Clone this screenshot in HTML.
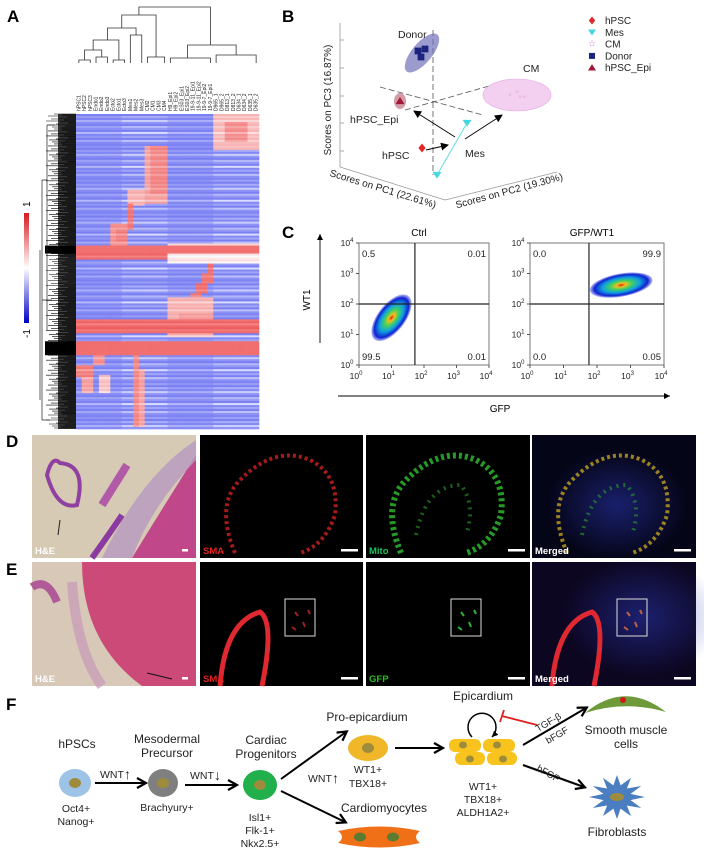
<!DOCTYPE html>
<html><head><meta charset="utf-8"><style>
html,body{margin:0;padding:0;background:#fff;width:704px;height:860px;overflow:hidden;font-family:"Liberation Sans",sans-serif}
svg{position:absolute;left:0;top:0}
text{font-family:"Liberation Sans",sans-serif}
</style></head><body>
<svg id="fig" width="704" height="860" viewBox="0 0 704 860">
<defs>
<linearGradient id="cbar" x1="0" y1="0" x2="0" y2="1">
<stop offset="0" stop-color="#d7191c"/><stop offset="0.5" stop-color="#ffffff"/><stop offset="1" stop-color="#0000c8"/></linearGradient>
<radialGradient id="dens"><stop offset="0" stop-color="#e02010"/><stop offset="0.15" stop-color="#f0c020"/><stop offset="0.35" stop-color="#40d060"/><stop offset="0.6" stop-color="#10a0e0"/><stop offset="0.85" stop-color="#1020d0"/><stop offset="1" stop-color="#2030e0" stop-opacity="0.3"/></radialGradient>
<radialGradient id="blueglow"><stop offset="0" stop-color="#2a36b0" stop-opacity="0.55"/><stop offset="1" stop-color="#2a36b0" stop-opacity="0"/></radialGradient>
<marker id="ah" markerWidth="8" markerHeight="8" refX="7" refY="4" orient="auto" markerUnits="userSpaceOnUse"><path d="M0,0 L8,4 L0,8 z" fill="#000"/></marker>
<marker id="ah2" markerWidth="12" markerHeight="12" refX="9" refY="6" orient="auto" markerUnits="userSpaceOnUse"><path d="M1,1 L10,6 L1,11" fill="none" stroke="#000" stroke-width="2.2"/></marker>
<marker id="ahs" markerWidth="6" markerHeight="6" refX="6" refY="3" orient="auto" markerUnits="userSpaceOnUse"><path d="M0,0 L6,3 L0,6 z" fill="#000"/></marker>
</defs>

<g font-weight="bold" font-size="17">
<text x="7" y="22">A</text>
<text x="282" y="22">B</text>
<text x="282" y="238">C</text>
<text x="6" y="447">D</text>
<text x="6" y="575">E</text>
<text x="6" y="710">F</text>
</g>

<g id="heatmap"></g>
<g id="rowdend"></g>
<g id="coldend" stroke="#333" stroke-width="0.8" fill="none"></g>
<g id="collabels" font-size="5" fill="#222"></g>
<rect x="24" y="213" width="5" height="110" fill="url(#cbar)"/>
<text transform="translate(30,207) rotate(-90)" font-size="10">1</text>
<text transform="translate(30,338) rotate(-90)" font-size="10">-1</text>

<g id="pca">
<line x1="340" y1="23" x2="340" y2="167" stroke="#999" stroke-width="0.8"/>
<line x1="340" y1="167" x2="445" y2="200" stroke="#999" stroke-width="0.8"/>
<line x1="445" y1="200" x2="557" y2="172" stroke="#999" stroke-width="0.8"/>
<g stroke="#999" stroke-width="0.8">
<line x1="340" y1="40" x2="344" y2="40"/><line x1="340" y1="68" x2="344" y2="68"/><line x1="340" y1="96" x2="344" y2="96"/><line x1="340" y1="123" x2="344" y2="123"/><line x1="340" y1="151" x2="344" y2="151"/>
</g>
<text transform="translate(331,100) rotate(-90)" font-size="10" text-anchor="middle" fill="#222">Scores on PC3 (16.87%)</text>
<text transform="translate(382,192) rotate(17)" font-size="10" text-anchor="middle" fill="#222">Scores on PC1 (22.61%)</text>
<text transform="translate(510,194) rotate(-15)" font-size="10" text-anchor="middle" fill="#222">Scores on PC2 (19.30%)</text>
<g stroke="#555" stroke-width="0.8" stroke-dasharray="6,3" fill="none">
<line x1="433" y1="30" x2="433" y2="175"/>
<line x1="380" y1="87" x2="483" y2="115"/>
<line x1="405" y1="110" x2="510" y2="80"/>
</g>
<ellipse cx="422" cy="53" rx="24" ry="10" transform="rotate(-50 422 53)" fill="#7070b8" opacity="0.7"/>
<ellipse cx="517" cy="95" rx="34" ry="16" fill="#f4d0f0" stroke="#e6a8e6" stroke-width="0.6"/>
<ellipse cx="400" cy="101" rx="6" ry="8" fill="#c07080" opacity="0.7"/>
<g id="pcapts"></g>
<line x1="467" y1="123" x2="437" y2="175" stroke="#6dd" stroke-width="1"/>
<g stroke="#000" stroke-width="0.9" marker-end="url(#ah)">
<line x1="455" y1="137" x2="414" y2="111"/>
<line x1="465" y1="139" x2="502" y2="115"/>
<line x1="426" y1="150" x2="448" y2="145"/>
</g>
<g font-size="10.5" fill="#222">
<text x="398" y="38">Donor</text>
<text x="523" y="72">CM</text>
<text x="350" y="123">hPSC_Epi</text>
<text x="382" y="159">hPSC</text>
<text x="465" y="157">Mes</text>
</g>
</g>
<g id="legend" font-size="10" fill="#222"></g>

<g id="flow"></g>
<line x1="320" y1="343" x2="320" y2="234" stroke="#000" stroke-width="0.9" marker-end="url(#ahs)"/>
<text transform="translate(310,300) rotate(-90)" font-size="10" text-anchor="middle">WT1</text>
<line x1="338" y1="396" x2="670" y2="396" stroke="#000" stroke-width="0.9" marker-end="url(#ahs)"/>
<text x="500" y="412" font-size="10" text-anchor="middle">GFP</text>

<g id="micro"></g>

<g id="diagram" font-size="10.5" fill="#222">
<text x="77" y="748" text-anchor="middle" font-size="12">hPSCs</text>
<ellipse cx="75" cy="783" rx="16" ry="14" fill="#9dc3e6"/><ellipse cx="75" cy="783" rx="6" ry="5" fill="#9e8c3c"/>
<text x="76" y="812" text-anchor="middle">Oct4+</text><text x="76" y="825" text-anchor="middle">Nanog+</text>
<line x1="95" y1="783" x2="145" y2="783" stroke="#000" stroke-width="2" marker-end="url(#ah2)"/>
<text x="100" y="778">WNT</text><text x="124" y="779" font-size="14">↑</text>
<text x="167" y="743" text-anchor="middle" font-size="12">Mesodermal</text><text x="167" y="757" text-anchor="middle" font-size="12">Precursor</text>
<ellipse cx="163" cy="783" rx="15" ry="14" fill="#7f7f7f"/><ellipse cx="163" cy="783" rx="6" ry="5" fill="#9e8c3c"/>
<text x="167" y="811" text-anchor="middle">Brachyury+</text>
<line x1="185" y1="785" x2="236" y2="785" stroke="#000" stroke-width="2" marker-end="url(#ah2)"/>
<text x="190" y="779">WNT</text><text x="214" y="780" font-size="14">↓</text>
<text x="266" y="744" text-anchor="middle" font-size="12">Cardiac</text><text x="266" y="758" text-anchor="middle" font-size="12">Progenitors</text>
<ellipse cx="260" cy="785" rx="17" ry="15" fill="#22b04c"/><ellipse cx="260" cy="785" rx="6" ry="5" fill="#9e8c3c"/>
<text x="260" y="821" text-anchor="middle">Isl1+</text><text x="260" y="834" text-anchor="middle">Flk-1+</text><text x="260" y="847" text-anchor="middle">Nkx2.5+</text>
<line x1="281" y1="779" x2="346" y2="732" stroke="#000" stroke-width="2" marker-end="url(#ah2)"/>
<line x1="281" y1="791" x2="345" y2="822" stroke="#000" stroke-width="2" marker-end="url(#ah2)"/>
<text x="308" y="782">WNT</text><text x="332" y="783" font-size="14">↑</text>
<text x="367" y="721" text-anchor="middle" font-size="12">Pro-epicardium</text>
<ellipse cx="368" cy="748" rx="20" ry="13" fill="#f0b728"/><ellipse cx="368" cy="748" rx="6" ry="5" fill="#9e8c3c"/>
<text x="368" y="773" text-anchor="middle">WT1+</text><text x="368" y="787" text-anchor="middle">TBX18+</text>
<text x="384" y="812" text-anchor="middle" font-size="12">Cardiomyocytes</text>
<path d="M338,831 Q380,822 420,831 Q412,837 420,843 Q380,852 338,843 Q346,837 338,831 z" fill="#f07018"/>
<ellipse cx="360" cy="837" rx="6" ry="4.5" fill="#5b7a32"/><ellipse cx="393" cy="837" rx="6" ry="4.5" fill="#5b7a32"/>
<line x1="395" y1="748" x2="442" y2="748" stroke="#000" stroke-width="2" marker-end="url(#ah2)"/>
<text x="483" y="700" text-anchor="middle" font-size="12">Epicardium</text>
<path d="M472,737 A14,14 0 1 1 492,737" fill="none" stroke="#000" stroke-width="1.5" marker-end="url(#ahs)"/>
<g fill="#f7c31c">
<rect x="449" y="739" width="32" height="13" rx="6"/><rect x="483" y="739" width="32" height="13" rx="6"/>
<rect x="455" y="752" width="30" height="13" rx="6"/><rect x="487" y="752" width="30" height="13" rx="6"/>
</g>
<g fill="#9e8c3c"><ellipse cx="463" cy="745" rx="4" ry="3.5"/><ellipse cx="497" cy="745" rx="4" ry="3.5"/><ellipse cx="470" cy="759" rx="4" ry="3.5"/><ellipse cx="503" cy="759" rx="4" ry="3.5"/></g>
<text x="483" y="790" text-anchor="middle">WT1+</text><text x="483" y="803" text-anchor="middle">TBX18+</text><text x="483" y="816" text-anchor="middle">ALDH1A2+</text>
<line x1="537" y1="725" x2="502" y2="716" stroke="#e02020" stroke-width="1.8"/>
<line x1="500" y1="722" x2="504" y2="710" stroke="#e02020" stroke-width="1.8"/>
<line x1="523" y1="745" x2="586" y2="708" stroke="#000" stroke-width="2" marker-end="url(#ah2)"/>
<text transform="translate(538,732) rotate(-30)" font-size="9.5">TGF-β</text>
<text transform="translate(548,744) rotate(-30)" font-size="9.5">bFGF</text>
<line x1="523" y1="765" x2="584" y2="787" stroke="#000" stroke-width="2" marker-end="url(#ah2)"/>
<text transform="translate(536,770) rotate(30)" font-size="9.5">bFGF</text>
<path d="M585,713 Q625,680 666,712 Q625,700 585,713 z" fill="#6f9a3a"/>
<circle cx="623" cy="700" r="3" fill="#d01818"/>
<text x="626" y="734" text-anchor="middle" font-size="12">Smooth muscle</text><text x="626" y="748" text-anchor="middle" font-size="12">cells</text>
<path id="fib" fill="#4a7ec0"/>
<ellipse cx="617" cy="797" rx="7" ry="4" fill="#9e8c3c"/>
<text x="617" y="836" text-anchor="middle" font-size="12">Fibroblasts</text>
</g>
</svg>

<script>
const NS='http://www.w3.org/2000/svg';
function mk(tag,attrs,parent){const e=document.createElementNS(NS,tag);for(const k in attrs)e.setAttribute(k,attrs[k]);if(parent)parent.appendChild(e);return e;}

const sampleNames=['hPSC1','hPSC2','hPSC3','Endo1','Endo2','Endo3','Ecto2','Ecto1','Ecto3','Mes1','Mes2','Mes3','CM2','CM1','CM3','CM4','H9_Epi1','H9_Epi2','ES03_Epi1','ES03_Epi2','19-9-11_Epi1','19-9-11_Epi2','19-9-7_Epi2','19-9-7_Epi1','D965_1','D965_2','D813_1','D813_2','D634_1','D634_2','D635_1','D635_2'];
const nRows=158;
const baseValue=-0.62;
const stripeOffsets=[0,0.22,0.05,0.38,0.1,0,0.28,0.12,0,0.45,0.05,0.18,0,0.32,0.08,0.02,0.15];
const blockRowStart=[0,  4, 16,16, 38,45, 55,58, 66,70, 65, 70, 75,80,85,90,95, 92,100,103, 103, 114,120,126,132, 121,128,131];
const blockRowEnd  =[18, 14,45,40, 46,58, 66,64, 70,73, 70, 75, 80,85,90,95,100,112,110,108, 110, 120,126,132,140, 157,157,140];
const blockColStart=[24, 26,12,13, 9, 9,  6, 7,  0, 0, 16, 16, 23,22,21,20,19, 16,18,0,   0,  0, 3, 0, 1,  10,11,4];
const blockColEnd  =[31, 29,15,15, 11,9,  8, 8, 31,31, 31, 31, 23,23,22,21,20, 23,23,4,  31, 1, 4, 2, 2,  10,11,5];
const blockValue   =[0.45,0.7,0.6,0.75,0.5,0.85,0.7,0.8,0.95,0.95,0.3,0.2,0.9,0.85,0.9,0.8,0.8,0.5,0.6,0.45,0.95,0.6,0.7,0.8,0.6,0.75,0.6,0.4];
const bandRowStart=[66,114];
const bandRowEnd=[70,121];

const HM={x:76,y:114,w:183,h:315};
function colorOf(v){v=Math.max(-1,Math.min(1,v));let r,g,b;
 if(v<0){const t=-v;r=255+(40-255)*t;g=255+(50-255)*t;b=255+(235-255)*t;}
 else{const t=v;r=255+(238-255)*t;g=255+(85-255)*t;b=255+(85-255)*t;}
 return 'rgb('+Math.round(r)+','+Math.round(g)+','+Math.round(b)+')';}
(function(){
 const g=document.getElementById('heatmap');
 const cw=HM.w/sampleNames.length, rh=HM.h/nRows;
 for(let r=0;r<nRows;r++){
  const off=stripeOffsets[r%stripeOffsets.length];
  for(let c=0;c<sampleNames.length;c++){
   let v=baseValue+off*(0.6+0.4*((c>>3)%2));
   for(let k=0;k<blockRowStart.length;k++){
    if(r>=blockRowStart[k]&&r<blockRowEnd[k]&&c>=blockColStart[k]&&c<=blockColEnd[k]) v=blockValue[k]-off*0.6;
   }
   for(let k=0;k<bandRowStart.length;k++){ if(r>=bandRowStart[k]&&r<bandRowEnd[k]) v=0.85; }
   const cell=mk('rect',{x:(HM.x+c*cw).toFixed(2),y:(HM.y+r*rh).toFixed(2),width:(cw+0.3).toFixed(2),height:(rh+0.3).toFixed(2),fill:colorOf(v)},g);
   
   
  }
 }
 const d=document.getElementById('rowdend');
 const lens=[22,14,28,9,18,25,12,30,16,8,20,27,11,24,15];
 for(let r=0;r<nRows*2;r++){
  const y=HM.y+r*rh/2; const L=lens[r%lens.length];
  mk('line',{x1:HM.x-L,y1:y.toFixed(1),x2:HM.x,y2:y.toFixed(1),stroke:'#000','stroke-width':0.6},d);
 }
 mk('rect',{x:HM.x-18,y:HM.y,width:18,height:HM.h,fill:'#000',opacity:0.75},d);
 for(let k=0;k<bandRowStart.length;k++){
  mk('rect',{x:45,y:HM.y+bandRowStart[k]*rh,width:HM.x-45,height:(bandRowEnd[k]-bandRowStart[k])*rh,fill:'#000'},d);
 }
 mk('path',{d:'M47,125 V330 M42,180 V420 M40,250 V400 M47,125 H55 M47,200 H58 M42,180 H47 M42,300 H52 M42,420 H50',stroke:'#222','stroke-width':0.7,fill:'none'},d);
 const cl=document.getElementById('collabels');
 sampleNames.forEach((n,c)=>{
  const x=HM.x+(c+0.5)*cw+1.5;
  const t=mk('text',{transform:'translate('+x.toFixed(1)+',111) rotate(-90)'},cl);
  t.textContent=n;
  
  
 });
 const cd=document.getElementById('coldend');
 const X=c=>HM.x+(c+0.5)*cw;
 const paths=[
  'M'+X(0)+',63 V60 H'+X(2)+' V63','M'+X(1)+',60 V50 H'+X(4)+' V57','M'+X(3)+',63 V57 H'+X(5)+' V63',
  'M'+X(6)+',63 V60 H'+X(8)+' V63','M'+X(2.5)+',50 V40 H'+X(7)+' V60','M'+X(9)+',63 V35 H'+X(11)+' V63',
  'M'+X(5)+',40 V28 H'+X(10)+' V35','M'+X(12)+',63 V57 H'+X(15)+' V63','M'+X(7.5)+',28 V15 H'+X(13.5)+' V57',
  'M'+X(16)+',63 V58 H'+X(23)+' V63','M'+X(19)+',58 V45 H'+X(27.5)+' V55','M'+X(24)+',63 V55 H'+X(31)+' V63',
  'M'+X(10.5)+',15 V7 H'+X(23)+' V45'];
 paths.forEach(p=>mk('path',{d:p},cd));
})();

const legendLabels=['hPSC','Mes','CM','Donor','hPSC_Epi'];
const legendColors=['#e02828','#40d8e0','#d070c8','#1a237e','#a01838'];
const legendShapes=['diamond','tri-down','star','square','tri-up'];
const pcaGroup=['Donor','Donor','Donor','CM','CM','CM','CM','hPSC_Epi','hPSC','Mes','Mes'];
const pcaX=[418,425,421,510,517,520,524,400,422,467,437];
const pcaY=[51,49,57,95,92,97,97,101,148,123,175];
function marker(g,shape,x,y,s,col){
 if(shape==='diamond')return mk('path',{d:`M${x},${y-s} L${x+s*0.8},${y} L${x},${y+s} L${x-s*0.8},${y} z`,fill:col},g);
 if(shape==='tri-down')return mk('path',{d:`M${x-s},${y-s*0.7} L${x+s},${y-s*0.7} L${x},${y+s*0.8} z`,fill:col},g);
 if(shape==='tri-up')return mk('path',{d:`M${x-s},${y+s*0.7} L${x+s},${y+s*0.7} L${x},${y-s*0.9} z`,fill:col},g);
 if(shape==='square')return mk('rect',{x:x-s*0.75,y:y-s*0.75,width:s*1.5,height:s*1.5,fill:col},g);
 return mk('text',{x:x,y:y+s*0.6,'font-size':s*2.2,'text-anchor':'middle',fill:col},g);
}
(function(){
 const g=document.getElementById('pcapts');
 pcaGroup.forEach((grp,i)=>{
  const k=legendLabels.indexOf(grp);
  const m=marker(g,legendShapes[k],pcaX[i],pcaY[i],grp==='CM'?2:4.5,legendColors[k]);
  if(legendShapes[k]==='star')m.textContent='☆';
  
  
 });
 const lg=document.getElementById('legend');
 legendLabels.forEach((l,i)=>{
  const y=24+i*11.8;
  const m=marker(lg,legendShapes[i],592,y-3.5,4,legendColors[i]);
  if(legendShapes[i]==='star')m.textContent='☆';
  const t=mk('text',{x:605,y:y},lg);t.textContent=l;
  
  
 });
})();

const flowTitles=['Ctrl','GFP/WT1'];
const flowBoxX=[359,530];
const gateX=[1.72,1.76];
const gateY=[2.0,2.0];
const quadUL=['0.5','0.0'],quadUR=['0.01','99.9'],quadLL=['99.5','0.0'],quadLR=['0.01','0.05'];
const popCx=[1.0,2.72],popCy=[1.55,2.62],popRx=[0.85,0.95],popRy=[0.28,0.38],popAngle=[-52,-10];
const tickLabels=['0','1','2','3','4'];
(function(){
 const g=document.getElementById('flow');
 const W=[130,134],H=122,Y0=243;
 flowTitles.forEach((title,p)=>{
  const x0=flowBoxX[p],w=W[p];
  const sx=v=>x0+v/4*w, sy=v=>Y0+H-v/4*H;
  const t=mk('text',{x:x0+w/2-5,y:236,'font-size':10,'text-anchor':'middle'},g);t.textContent=title;
  
  
  const rx=popRx[p]/4*w, ry=popRy[p]/4*H*(p===0?1.6:1);
  const e=mk('ellipse',{cx:sx(popCx[p]),cy:sy(popCy[p]),rx:rx,ry:ry,fill:'url(#dens)',transform:`rotate(${popAngle[p]} ${sx(popCx[p])} ${sy(popCy[p])})`},g);
  
  
  mk('rect',{x:x0,y:Y0,width:w,height:H,fill:'none',stroke:'#777','stroke-width':1},g);
  mk('line',{x1:sx(gateX[p]),y1:Y0,x2:sx(gateX[p]),y2:Y0+H,stroke:'#222','stroke-width':1.2},g);
  mk('line',{x1:x0,y1:sy(gateY[p]),x2:x0+w,y2:sy(gateY[p]),stroke:'#222','stroke-width':1.2},g);
  const q=[[quadUL[p],x0+3,Y0+14],[quadUR[p],x0+w-3,Y0+14],[quadLL[p],x0+3,Y0+H-5],[quadLR[p],x0+w-3,Y0+H-5]];
  q.forEach((a,i)=>{const tt=mk('text',{x:a[1],y:a[2],'font-size':9.5,'text-anchor':(i%2?'end':'start'),fill:'#222'},g);tt.textContent=a[0];
   
   });
  tickLabels.forEach((lab,i)=>{
   const xt=mk('text',{x:sx(i)-3,y:Y0+H+14,'font-size':8.5,'text-anchor':'middle',fill:'#222'},g);
   xt.innerHTML='10<tspan dy="-4" font-size="6">'+lab+'</tspan>';
   
   
   mk('line',{x1:sx(i),y1:Y0+H,x2:sx(i),y2:Y0+H+3,stroke:'#555'},g);
   const yt=mk('text',{x:x0-12,y:sy(i)+3,'font-size':8.5,'text-anchor':'middle',fill:'#222'},g);
   yt.innerHTML='10<tspan dy="-4" font-size="6">'+lab+'</tspan>';
   
   
   mk('line',{x1:x0-3,y1:sy(i),x2:x0,y2:sy(i),stroke:'#555'},g);
  });
 });
})();

(function(){
 const g=document.getElementById('micro');
 const px=[32,200,366,532],pw=[164,163,164,164];
 const rows=[[435,123],[562,124]];
 const labs=[['H&E','SMA','Mito','Merged'],['H&E','SMA','GFP','Merged']];
 const labCol=[['#fff','#e02020','#20c060','#fff'],['#fff','#e02020','#20c020','#fff']];
 rows.forEach((r,ri)=>{
  const [y,h]=r;
  px.forEach((x,ci)=>{
   const w=pw[ci];
   const pg=mk('g',{},g);
   
   
   if(ci===0){
    if(ri===0){
     mk('rect',{x:x,y:y,width:w,height:h,fill:'#d6cab5'},pg);
     mk('path',{d:`M${x+w},${y+20} Q${x+120},${y+90} ${x+100},${y+h} L${x+w},${y+h} z`,fill:'#c0488a'},pg);
     mk('path',{d:`M${x+70},${y+h} Q${x+110},${y+40} ${x+w},${y+5} L${x+w},${y+25} Q${x+120},${y+70} ${x+100},${y+h} z`,fill:'#b898c0',opacity:0.8},pg);
     mk('path',{d:`M${x+15},${y+40} Q${x+20},${y+20} ${x+28},${y+28} Q${x+55},${y+30} ${x+45},${y+70} Q${x+25},${y+75} ${x+15},${y+40} z`,fill:'none',stroke:'#9040a0','stroke-width':4},pg);
     mk('path',{d:`M${x+70},${y+70} L${x+95},${y+30}`,stroke:'#b05aa8','stroke-width':8},pg);
     mk('path',{d:`M${x+60},${y+h} Q${x+80},${y+95} ${x+90},${y+80}`,stroke:'#8a3aa0','stroke-width':6,fill:'none'},pg);
     mk('line',{x1:x+26,y1:y+100,x2:x+28,y2:y+85,stroke:'#222','stroke-width':1},pg);
    } else {
     mk('rect',{x:x,y:y,width:w,height:h,fill:'#d8c8b8'},pg);
     mk('path',{d:`M${x+50},${y} L${x+w},${y} L${x+w},${y+h} L${x+110},${y+h} Q${x+50},${y+80} ${x+50},${y}`,fill:'#cc4a78'},pg);
     mk('path',{d:`M${x+40},${y+20} Q${x+45},${y+90} ${x+70},${y+h}`,stroke:'#c898b8','stroke-width':10,fill:'none',opacity:0.7},pg);
     mk('path',{d:`M${x},${y+25} Q${x+15},${y+15} ${x+25},${y+40}`,stroke:'#b05a98','stroke-width':8,fill:'none'},pg);
     mk('line',{x1:x+115,y1:y+111,x2:x+140,y2:y+117,stroke:'#111','stroke-width':1},pg);
    }
   } else {
    const bg=ci===3?(ri===0?'#050518':'#0c0620'):'#000';
    mk('rect',{x:x,y:y,width:w,height:h,fill:bg},pg);
    if(ci===3){
     mk('ellipse',{cx:x+(ri?110:85),cy:y+(ri?55:70),rx:ri?80:70,ry:ri?60:55,fill:'url(#blueglow)'},pg);
    }
    if(ri===0){
     const ring=`M${x+35},${y+h-5} Q${x+15},${y+70} ${x+40},${y+45} Q${x+75},${y+10} ${x+110},${y+25} Q${x+140},${y+40} ${x+135},${y+80} Q${x+125},${y+110} ${x+100},${y+h-5}`;
     const col=ci===1?'#d02020':ci===2?'#30c030':'#c0a020';
     mk('path',{d:ring,fill:'none',stroke:col,'stroke-width':ci===2?6:4,'stroke-dasharray':'3,3',opacity:0.8},pg);
     if(ci>=2) mk('path',{d:`M${x+50},${y+100} Q${x+60},${y+50} ${x+95},${y+50} Q${x+110},${y+70} ${x+100},${y+100}`,fill:'none',stroke:'#30a030','stroke-width':4,'stroke-dasharray':'2,5',opacity:0.6},pg);
    } else {
     if(ci!==2) mk('path',{d:`M${x+20},${y+h} Q${x+25},${y+60} ${x+60},${y+50} Q${x+75},${y+60} ${x+62},${y+h}`,fill:'none',stroke:'#e02830','stroke-width':5},pg);
     mk('rect',{x:x+85,y:y+37,width:30,height:37,fill:'none',stroke:'#ddd','stroke-width':1},pg);
     const dc=ci===1?'#a02020':ci===2?'#30b030':'#c06040';
     mk('path',{d:`M${x+95},${y+50} l3,4 M${x+103},${y+60} l2,5 M${x+92},${y+65} l4,3 M${x+108},${y+48} l2,4`,stroke:dc,'stroke-width':2},pg);
    }
   }
   const lt=mk('text',{x:x+3,y:y+h-4,'font-size':9.5,'font-weight':'bold',fill:labCol[ri][ci]},pg);
   lt.textContent=labs[ri][ci];
   mk('rect',{x:x+w-(ci===0?14:22),y:y+h-9,width:ci===0?6:17,height:2.5,fill:'#fff'},pg);
  });
 });
})();

(function(){
 const cx=617,cy=797,n=12;let d='';
 for(let i=0;i<n*2;i++){const a=i*Math.PI/n;const r=i%2?14:28;const ry=i%2?12:22;
  d+=(i?'L':'M')+(cx+r*Math.cos(a)).toFixed(1)+','+(cy+ry*Math.sin(a)).toFixed(1);}
 document.getElementById('fib').setAttribute('d',d+'z');
})();
</script>
</body></html>
